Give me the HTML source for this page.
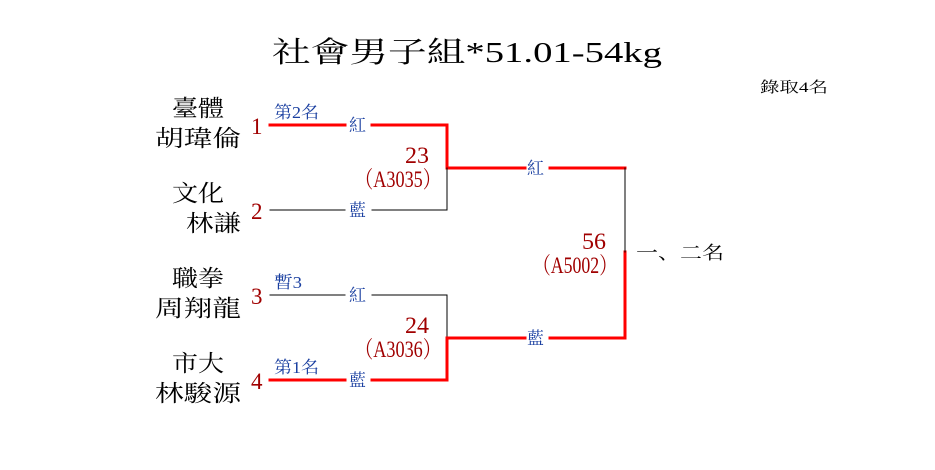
<!DOCTYPE html>
<html><head><meta charset="utf-8"><style>
html,body{margin:0;padding:0;background:#fff;}
</style></head><body>
<svg width="935" height="465" viewBox="0 0 935 465" xmlns="http://www.w3.org/2000/svg" font-family="'Liberation Serif', 'Noto Serif CJK SC', serif">
<text x="272" y="62" font-size="29" textLength="390" lengthAdjust="spacingAndGlyphs" fill="#000">社會男子組*51.01-54kg</text>
<text x="760" y="92" font-size="15" textLength="68" lengthAdjust="spacingAndGlyphs" fill="#000">錄取4名</text>

<g font-size="23" fill="#000">
<text x="172" y="116" textLength="52" lengthAdjust="spacingAndGlyphs">臺體</text>
<text x="155" y="146" textLength="86" lengthAdjust="spacingAndGlyphs">胡瑋倫</text>
<text x="172" y="201" textLength="52" lengthAdjust="spacingAndGlyphs">文化</text>
<text x="186" y="231" textLength="55" lengthAdjust="spacingAndGlyphs">林謙</text>
<text x="172" y="286" textLength="52" lengthAdjust="spacingAndGlyphs">職拳</text>
<text x="155" y="316" textLength="86" lengthAdjust="spacingAndGlyphs">周翔龍</text>
<text x="172" y="371" textLength="52" lengthAdjust="spacingAndGlyphs">市大</text>
<text x="155" y="401" textLength="86" lengthAdjust="spacingAndGlyphs">林駿源</text>
</g>

<g font-size="23" fill="#a00000">
<text x="251" y="134">1</text>
<text x="251" y="219">2</text>
<text x="251" y="304">3</text>
<text x="251" y="389">4</text>
<text x="405" y="163" textLength="24" lengthAdjust="spacingAndGlyphs">23</text>
<text x="355" y="187" textLength="86" lengthAdjust="spacingAndGlyphs">（A3035）</text>
<text x="405" y="333" textLength="24" lengthAdjust="spacingAndGlyphs">24</text>
<text x="355" y="357" textLength="86" lengthAdjust="spacingAndGlyphs">（A3036）</text>
<text x="582" y="249" textLength="24" lengthAdjust="spacingAndGlyphs">56</text>
<text x="533" y="273" textLength="84" lengthAdjust="spacingAndGlyphs">（A5002）</text>
</g>

<g fill="none" stroke-linecap="square">
<path d="M270 125H345M372 125H447V168H525M550 168H625" stroke="#f00" stroke-width="3"/>
<path d="M270 210H345M372 210H447V168" stroke="#000" stroke-width="1"/>
<path d="M270 295H345M372 295H447V338" stroke="#000" stroke-width="1"/>
<path d="M270 380H345M372 380H447V338H525M550 338H625V252" stroke="#f00" stroke-width="3"/>
<path d="M625 168V252" stroke="#000" stroke-width="1"/>
</g>

<g font-size="17" fill="#1a3fa0">
<text x="274" y="118" textLength="45" lengthAdjust="spacingAndGlyphs">第2名</text>
<text x="349" y="131">紅</text>
<text x="349" y="216">藍</text>
<text x="274" y="288" textLength="28" lengthAdjust="spacingAndGlyphs">暫3</text>
<text x="349" y="301">紅</text>
<text x="274" y="373" textLength="45" lengthAdjust="spacingAndGlyphs">第1名</text>
<text x="349" y="386">藍</text>
<text x="527" y="174">紅</text>
<text x="527" y="344">藍</text>
</g>

<text x="636" y="259" font-size="18" fill="#000" textLength="88" lengthAdjust="spacingAndGlyphs">一、二名</text>
</svg>
</body></html>
